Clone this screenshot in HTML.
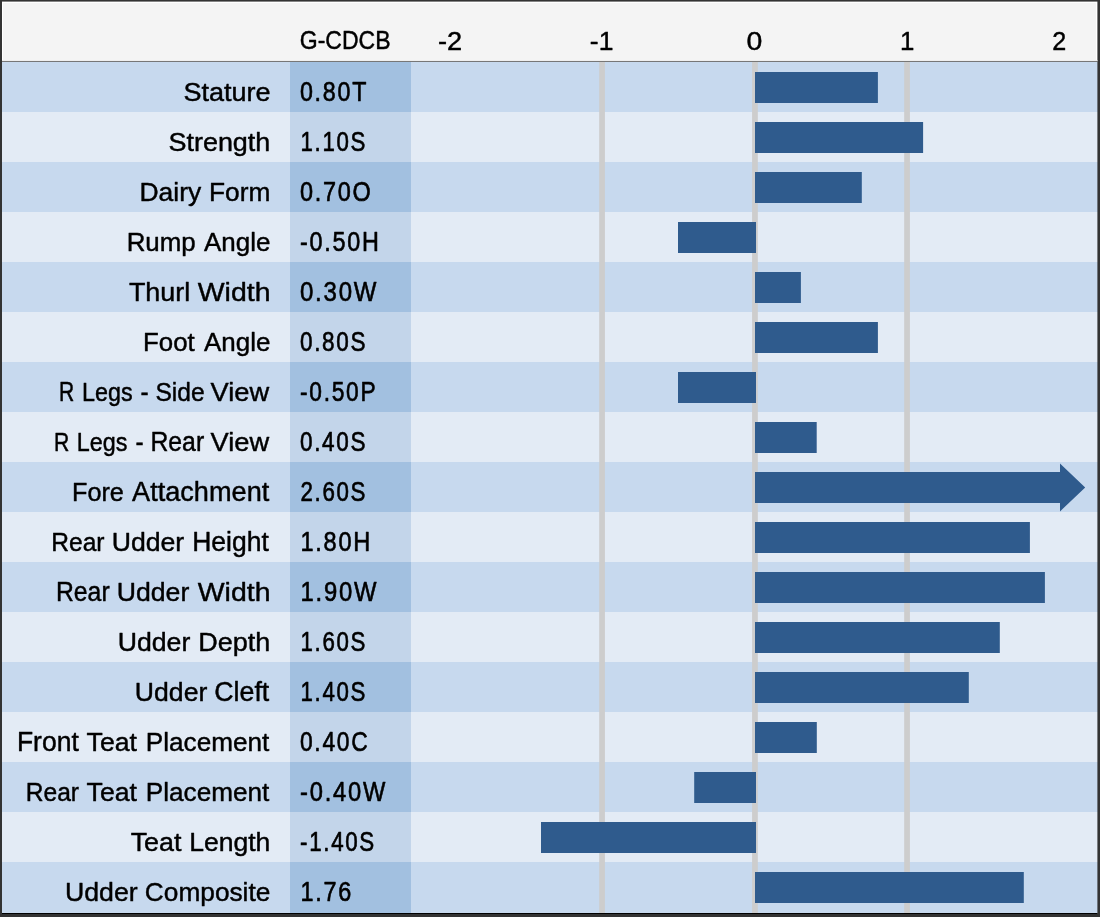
<!DOCTYPE html>
<html><head><meta charset="utf-8"><title>Chart</title>
<style>html,body{margin:0;padding:0;background:#333}svg{display:block;will-change:transform}text{font-family:"Liberation Sans",sans-serif;font-size:26.7px;fill:#000000;stroke:#000;stroke-width:0.45px;stroke-linejoin:round;vector-effect:non-scaling-stroke}.v text{letter-spacing:2.0px;stroke-width:0.6px}</style></head><body>
<svg width="1100" height="917" viewBox="0 0 1100 917">
<rect width="1100" height="917" fill="#333333"/>
<rect x="2" y="1.6" width="1095.4" height="60" fill="#ffffff"/>
<rect x="3" y="3" width="1093" height="57" fill="#f4f4f4"/>
<rect x="2" y="60" width="1095.4" height="1" fill="#fdfdfd"/>
<rect x="2" y="62" width="1095.4" height="50" fill="#c7d9ee"/>
<rect x="290" y="62" width="121" height="50" fill="#a2c0e0"/>
<rect x="2" y="112" width="1095.4" height="50" fill="#e3ebf5"/>
<rect x="290" y="112" width="121" height="50" fill="#c3d5ea"/>
<rect x="2" y="162" width="1095.4" height="50" fill="#c7d9ee"/>
<rect x="290" y="162" width="121" height="50" fill="#a2c0e0"/>
<rect x="2" y="212" width="1095.4" height="50" fill="#e3ebf5"/>
<rect x="290" y="212" width="121" height="50" fill="#c3d5ea"/>
<rect x="2" y="262" width="1095.4" height="50" fill="#c7d9ee"/>
<rect x="290" y="262" width="121" height="50" fill="#a2c0e0"/>
<rect x="2" y="312" width="1095.4" height="50" fill="#e3ebf5"/>
<rect x="290" y="312" width="121" height="50" fill="#c3d5ea"/>
<rect x="2" y="362" width="1095.4" height="50" fill="#c7d9ee"/>
<rect x="290" y="362" width="121" height="50" fill="#a2c0e0"/>
<rect x="2" y="412" width="1095.4" height="50" fill="#e3ebf5"/>
<rect x="290" y="412" width="121" height="50" fill="#c3d5ea"/>
<rect x="2" y="462" width="1095.4" height="50" fill="#c7d9ee"/>
<rect x="290" y="462" width="121" height="50" fill="#a2c0e0"/>
<rect x="2" y="512" width="1095.4" height="50" fill="#e3ebf5"/>
<rect x="290" y="512" width="121" height="50" fill="#c3d5ea"/>
<rect x="2" y="562" width="1095.4" height="50" fill="#c7d9ee"/>
<rect x="290" y="562" width="121" height="50" fill="#a2c0e0"/>
<rect x="2" y="612" width="1095.4" height="50" fill="#e3ebf5"/>
<rect x="290" y="612" width="121" height="50" fill="#c3d5ea"/>
<rect x="2" y="662" width="1095.4" height="50" fill="#c7d9ee"/>
<rect x="290" y="662" width="121" height="50" fill="#a2c0e0"/>
<rect x="2" y="712" width="1095.4" height="50" fill="#e3ebf5"/>
<rect x="290" y="712" width="121" height="50" fill="#c3d5ea"/>
<rect x="2" y="762" width="1095.4" height="50" fill="#c7d9ee"/>
<rect x="290" y="762" width="121" height="50" fill="#a2c0e0"/>
<rect x="2" y="812" width="1095.4" height="50" fill="#e3ebf5"/>
<rect x="290" y="812" width="121" height="50" fill="#c3d5ea"/>
<rect x="2" y="862" width="1095.4" height="51" fill="#c7d9ee"/>
<rect x="290" y="862" width="121" height="51" fill="#a2c0e0"/>
<rect x="2" y="60.9" width="1095.4" height="1.1" fill="#777777"/>
<rect x="2" y="913" width="1095" height="1" fill="#000"/>
<rect x="0" y="914" width="1100" height="3" fill="#333333"/>
<rect x="599.2" y="62" width="5.7" height="851" fill="#cdcdcd"/>
<rect x="752.1" y="62" width="5.7" height="851" fill="#cdcdcd"/>
<rect x="904.2" y="62" width="5.7" height="851" fill="#cdcdcd"/>
<rect x="755.0" y="72" width="122.90" height="31" fill="#2f5b8d"/>
<rect x="755.0" y="122" width="168.10" height="31" fill="#2f5b8d"/>
<rect x="755.0" y="172" width="106.80" height="31" fill="#2f5b8d"/>
<rect x="678.00" y="222" width="78.00" height="31" fill="#2f5b8d"/>
<rect x="755.0" y="272" width="45.90" height="31" fill="#2f5b8d"/>
<rect x="755.0" y="322" width="122.90" height="31" fill="#2f5b8d"/>
<rect x="678.00" y="372" width="78.00" height="31" fill="#2f5b8d"/>
<rect x="755.0" y="422" width="61.70" height="31" fill="#2f5b8d"/>
<path d="M755.0 472H1060V463.6L1085.2 487.5L1060 511.4V503H755.0Z" fill="#2f5b8d"/>
<rect x="755.0" y="522" width="274.90" height="31" fill="#2f5b8d"/>
<rect x="755.0" y="572" width="289.90" height="31" fill="#2f5b8d"/>
<rect x="755.0" y="622" width="244.80" height="31" fill="#2f5b8d"/>
<rect x="755.0" y="672" width="213.80" height="31" fill="#2f5b8d"/>
<rect x="755.0" y="722" width="61.80" height="31" fill="#2f5b8d"/>
<rect x="694.20" y="772" width="61.80" height="31" fill="#2f5b8d"/>
<rect x="541.00" y="822" width="215.00" height="31" fill="#2f5b8d"/>
<rect x="755.0" y="872" width="268.80" height="31" fill="#2f5b8d"/>
<text transform="translate(299.82 49.40) scale(0.8623 1)">G-CDCB</text>
<text transform="translate(437.98 49.85) scale(1.0186 0.975)">-2</text>
<text transform="translate(589.81 49.85) scale(0.9931 0.975)">-1</text>
<text transform="translate(746.40 49.85) scale(1.0642 0.975)">0</text>
<text transform="translate(899.91 49.85) scale(0.9667 0.975)">1</text>
<text transform="translate(1052.26 49.85) scale(0.9412 0.975)">2</text>
<g><text transform="translate(183.49 100.85) scale(1.0119 1)">Stature</text></g>
<g><text transform="translate(168.49 150.85) scale(1.0091 1)">Strength</text></g>
<g><text transform="translate(139.42 200.85) scale(0.9917 1)">Dairy</text><text transform="translate(209.03 200.85) scale(0.9855 1)">Form</text></g>
<g><text transform="translate(126.66 250.85) scale(0.9700 1)">Rump</text><text transform="translate(204.04 250.85) scale(0.9733 1)">Angle</text></g>
<g><text transform="translate(128.90 300.85) scale(1.0094 1)">Thurl</text><text transform="translate(197.70 300.85) scale(1.0667 1)">Width</text></g>
<g><text transform="translate(143.07 350.85) scale(0.9670 1)">Foot</text><text transform="translate(204.04 350.85) scale(0.9733 1)">Angle</text></g>
<g><text transform="translate(59.12 400.85) scale(0.7877 1)">R</text><text transform="translate(82.00 400.85) scale(0.8736 1)">Legs</text><text transform="translate(140.49 400.85) scale(0.9143 1)">-</text><text transform="translate(155.48 400.85) scale(0.9204 1)">Side</text><text transform="translate(210.60 400.85) scale(1.0209 1)">View</text></g>
<g><text transform="translate(53.91 450.85) scale(0.7938 1)">R</text><text transform="translate(76.85 450.85) scale(0.8745 1)">Legs</text><text transform="translate(135.39 450.85) scale(0.9143 1)">-</text><text transform="translate(150.44 450.85) scale(0.9279 1)">Rear</text><text transform="translate(210.60 450.85) scale(1.0209 1)">View</text></g>
<g><text transform="translate(72.01 500.85) scale(0.9442 1)">Fore</text><text transform="translate(132.05 500.85) scale(1.0166 1)">Attachment</text></g>
<g><text transform="translate(51.26 550.85) scale(0.9207 1)">Rear</text><text transform="translate(111.65 550.85) scale(0.9979 1)">Udder</text><text transform="translate(192.21 550.85) scale(0.9927 1)">Height</text></g>
<g><text transform="translate(55.94 600.85) scale(0.9279 1)">Rear</text><text transform="translate(116.75 600.85) scale(0.9979 1)">Udder</text><text transform="translate(197.70 600.85) scale(1.0667 1)">Width</text></g>
<g><text transform="translate(117.75 650.85) scale(0.9979 1)">Udder</text><text transform="translate(198.27 650.85) scale(1.0125 1)">Depth</text></g>
<g><text transform="translate(134.86 700.85) scale(0.9965 1)">Udder</text><text transform="translate(214.25 700.85) scale(1.0028 1)">Cleft</text></g>
<g><text transform="translate(16.91 750.85) scale(0.9925 1)">Front</text><text transform="translate(86.60 750.85) scale(0.9980 1)">Teat</text><text transform="translate(145.84 750.85) scale(0.9787 1)">Placement</text></g>
<g><text transform="translate(25.76 800.85) scale(0.9207 1)">Rear</text><text transform="translate(86.60 800.85) scale(0.9980 1)">Teat</text><text transform="translate(145.84 800.85) scale(0.9787 1)">Placement</text></g>
<g><text transform="translate(130.70 850.85) scale(1.0060 1)">Teat</text><text transform="translate(189.21 850.85) scale(0.9942 1)">Length</text></g>
<g><text transform="translate(64.95 900.85) scale(1.0007 1)">Udder</text><text transform="translate(144.87 900.85) scale(0.9836 1)">Composite</text></g>
<g class="v">
<text transform="translate(299.95 101.05) scale(0.8707 1.035)">0.80T</text>
<text transform="translate(300.54 151.05) scale(0.8347 1.035)">1.10S</text>
<text transform="translate(299.94 201.05) scale(0.8785 1.035)">0.70O</text>
<text transform="translate(300.03 251.05) scale(0.8745 1.035)">-0.50H</text>
<text transform="translate(299.93 301.05) scale(0.8994 1.035)">0.30W</text>
<text transform="translate(299.97 351.05) scale(0.8421 1.035)">0.80S</text>
<text transform="translate(300.05 401.05) scale(0.8520 1.035)">-0.50P</text>
<text transform="translate(299.97 451.05) scale(0.8421 1.035)">0.40S</text>
<text transform="translate(300.46 501.05) scale(0.8356 1.035)">2.60S</text>
<text transform="translate(300.46 551.05) scale(0.8808 1.035)">1.80H</text>
<text transform="translate(300.44 601.05) scale(0.8934 1.035)">1.90W</text>
<text transform="translate(300.54 651.05) scale(0.8347 1.035)">1.60S</text>
<text transform="translate(300.54 701.05) scale(0.8347 1.035)">1.40S</text>
<text transform="translate(299.96 751.05) scale(0.8540 1.035)">0.40C</text>
<text transform="translate(300.01 801.05) scale(0.8884 1.035)">-0.40W</text>
<text transform="translate(300.06 851.05) scale(0.8370 1.035)">-1.40S</text>
<text transform="translate(300.47 901.05) scale(0.8760 1.035)">1.76</text>
</g>
</svg></body></html>
